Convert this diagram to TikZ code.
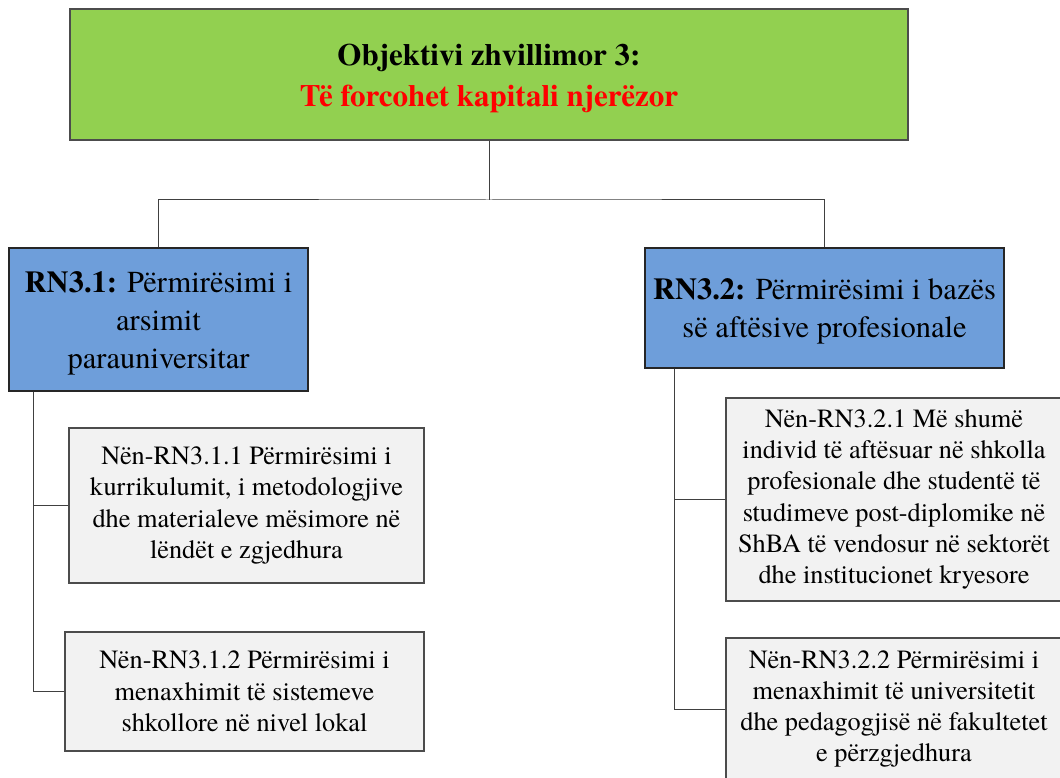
\documentclass[tikz,border=0pt]{standalone}
\usepackage{fontspec}
\setmainfont{texgyretermes-regular.otf}[BoldFont=texgyretermes-bold.otf]
\usetikzlibrary{positioning}
\definecolor{topgreen}{HTML}{92D050}
\definecolor{rnblue}{HTML}{6E9EDA}
\definecolor{subgray}{HTML}{F2F2F2}
\definecolor{linegray}{HTML}{404040}
\begin{document}
\begin{tikzpicture}[x=1pt,y=-1pt,
  box/.style={draw, line width=1.2pt, inner sep=0pt, align=center, anchor=center},
  topbox/.style={box, fill=topgreen, draw=black!70, font=\fontsize{31}{41}\selectfont\bfseries},
  rnbox/.style={box, fill=rnblue, draw=black!85, font=\fontsize{30.5}{38}\selectfont},
  subbox/.style={box, fill=subgray, draw=black!70, font=\fontsize{26.3}{31.3}\selectfont},
  conn/.style={draw=linegray, line width=1pt}]
\useasboundingbox (0,0) rectangle (1060,778);
\node[topbox, minimum width=838pt, minimum height=131pt] (top) at (489,74.5)
  {\rule{0pt}{29pt}Objektivi zhvillimor 3:\\\textcolor{red}{Të forcohet kapitali njerëzor}};
\node[rnbox, minimum width=299pt, minimum height=143pt] (rn1) at (158.5,319.5)
  {\rule{0pt}{29pt}\textbf{RN3.1:} Përmirësimi i\\arsimit\\parauniversitar};
\node[rnbox, minimum width=359pt, minimum height=120pt] (rn2) at (824.5,308)
  {\rule{0pt}{27pt}\textbf{RN3.2:} Përmirësimi i bazës\\së aftësive profesionale};
\node[subbox, minimum width=355pt, minimum height=155pt] (s11) at (246.5,505.5)
  {Nën-RN3.1.1 Përmirësimi i\\kurrikulumit, i metodologjive\\dhe materialeve mësimore në\\lëndët e zgjedhura};
\node[subbox, minimum width=359pt, minimum height=119pt] (s12) at (244.5,691.5)
  {Nën-RN3.1.2 Përmirësimi i\\menaxhimit të sistemeve\\shkollore në nivel lokal};
\node[subbox, minimum width=336pt, minimum height=203pt] (s21) at (894,499.5)
  {Nën-RN3.2.1 Më shumë\\individ të aftësuar në shkolla\\profesionale dhe studentë të\\studimeve post-diplomike në\\ShBA të vendosur në sektorët\\dhe institucionet kryesore};
\node[subbox, minimum width=336pt, minimum height=142pt] (s22) at (894,709)
  {Nën-RN3.2.2 Përmirësimi i\\menaxhimit të universitetit\\dhe pedagogjisë në fakultetet\\e përzgjedhura};
\coordinate (j) at (489,200);
\draw[conn] (top.south) -- (j);
\draw[conn] (rn1.north) |- (j) -| (rn2.north);
\coordinate (l) at ([xshift=25pt]rn1.south west);
\draw[conn] (l) |- (s12.west);
\draw[conn] (l) |- (s11.west);
\coordinate (r) at ([xshift=30pt]rn2.south west);
\draw[conn] (r) |- (s22.west);
\draw[conn] (r) |- (s21.west);
\end{tikzpicture}
\end{document}
